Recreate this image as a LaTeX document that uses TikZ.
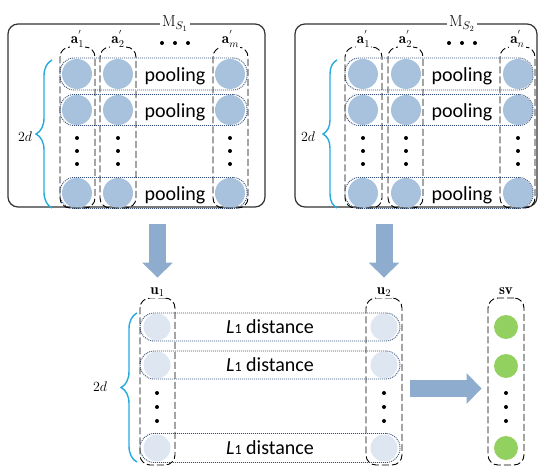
\RequirePackage{fix-cm}
\documentclass[tikz,border=0pt]{standalone}
\usepackage{amsmath}
\usepackage{fontspec}
\newfontfamily\calibri{Carlito}
\usepackage{xcolor}
\definecolor{cellblue}{RGB}{168, 194, 222}
\definecolor{celllight}{RGB}{222, 230, 241}
\definecolor{cellgreen}{RGB}{146, 208, 96}
\definecolor{flowblue}{RGB}{141, 172, 206}
\definecolor{bracecyan}{RGB}{38, 170, 222}
\definecolor{rowline}{RGB}{55, 80, 120}
\usepackage{tikz}
\usetikzlibrary{arrows.meta, positioning, decorations.pathreplacing}

\begin{document}
\begin{tikzpicture}[
    x=1pt, y=-1pt,
    panel/.style={rectangle, draw=black!80, line width=1.2pt, rounded corners=10pt},
    title/.style={fill=white, inner sep=2pt, anchor=base, font=\fontsize{16}{18}\selectfont},
    column/.style={rectangle, draw=black, line width=0.9pt, dash pattern=on 7pt off 3pt, rounded corners=10pt, minimum height=161pt},
    collabel/.style={fill=white, inner sep=1pt, anchor=base, font=\fontsize{15}{18}\selectfont},
    row/.style={rectangle, draw=rowline, line width=0.9pt, dash pattern=on 1pt off 1pt, rounded corners=14pt, inner sep=0pt},
    cell/.style={circle, fill=cellblue, minimum size=30pt, inner sep=0pt},
    lightcell/.style={circle, fill=celllight, minimum size=27pt, inner sep=0pt},
    greencell/.style={circle, fill=cellgreen, minimum size=24pt, inner sep=0pt},
    pooltext/.style={anchor=base, inner sep=0pt, font=\calibri\fontsize{20}{24}\selectfont},
    cbrace/.style={draw=bracecyan, line width=1.4pt, decorate},
    flow/.style={line width=17pt, flowblue, -{Triangle[width=30pt, length=15pt]}}
]
\useasboundingbox (0,0) rectangle (550,473);

% Left matrix
\node (panelL) [panel, minimum width=257pt, minimum height=183pt] at (136.5,115.5) {};
\node (cL11) [cell] at (77,74) {};
\node (cL12) [cell] at (118,74) {};
\node (cL1m) [cell] at (230,74) {};
\node (cL21) [cell] at (77,110) {};
\node (cL22) [cell] at (118,110) {};
\node (cL2m) [cell] at (230,110) {};
\node (cL31) [cell] at (77,193) {};
\node (cL32) [cell] at (118,193) {};
\node (cL3m) [cell] at (230,193) {};
\node (rowL1) [row, minimum width=187pt, minimum height=32pt] at (153.5,74) {};
\node (rowL2) [row, minimum width=187pt, minimum height=31pt] at (153.5,110) {};
\node (rowL3) [row, minimum width=187pt, minimum height=31pt] at (153.5,193) {};
\node (poolL1) [pooltext] at (175,82) {pooling};
\node (poolL2) [pooltext] at (175,118) {pooling};
\node (poolL3) [pooltext] at (175,201) {pooling};
\node (colL1) [column, minimum width=35pt] at (77.5,127.5) {};
\node (colL2) [column, minimum width=36pt] at (118,127.5) {};
\node (colLm) [column, minimum width=35pt] at (230.5,127.5) {};
\node (labL1) [collabel] at ([yshift=3pt]colL1.north) {$\mathbf{a}^{'}_{1}$};
\node (labL2) [collabel] at ([yshift=3pt]colL2.north) {$\mathbf{a}^{'}_{2}$};
\node (labLm) [collabel] at ([yshift=3pt]colLm.north) {$\mathbf{a}^{'}_{m}$};
\node (titleL) [title] at (175,27) {$\mathrm{M}_{S_1}$};
\fill (162,43) circle (2) (175,43) circle (2) (188,43) circle (2);
\fill (77,138) circle (2) (77,151) circle (2) (77,164) circle (2);
\fill (118,138) circle (2) (118,151) circle (2) (118,164) circle (2);
\fill (230,138) circle (2) (230,151) circle (2) (230,164) circle (2);
\draw [cbrace, decoration={brace, amplitude=16pt}] (52,208) -- (52,60);
\node (dimL) [font=\fontsize{14}{16}\selectfont] at (25,137) {$2d$};

% Right matrix
\node (panelR) [panel, minimum width=242pt, minimum height=183pt] at (416,115.5) {};
\node (cR11) [cell] at (363,74) {};
\node (cR12) [cell] at (406,74) {};
\node (cR1n) [cell] at (518,74) {};
\node (cR21) [cell] at (363,110) {};
\node (cR22) [cell] at (406,110) {};
\node (cR2n) [cell] at (518,110) {};
\node (cR31) [cell] at (363,193) {};
\node (cR32) [cell] at (406,193) {};
\node (cR3n) [cell] at (518,193) {};
\node (rowR1) [row, minimum width=188pt, minimum height=32pt] at (439,74) {};
\node (rowR2) [row, minimum width=188pt, minimum height=31pt] at (439,110) {};
\node (rowR3) [row, minimum width=188pt, minimum height=31pt] at (439,193) {};
\node (poolR1) [pooltext] at (462,82) {pooling};
\node (poolR2) [pooltext] at (462,118) {pooling};
\node (poolR3) [pooltext] at (462,201) {pooling};
\node (colR1) [column, minimum width=37pt] at (363.5,127.5) {};
\node (colR2) [column, minimum width=35pt] at (405.5,127.5) {};
\node (colRn) [column, minimum width=35pt] at (517.5,127.5) {};
\node (labR1) [collabel] at ([yshift=3pt]colR1.north) {$\mathbf{a}^{'}_{1}$};
\node (labR2) [collabel] at ([yshift=3pt]colR2.north) {$\mathbf{a}^{'}_{2}$};
\node (labRn) [collabel] at ([yshift=3pt]colRn.north) {$\mathbf{a}^{'}_{n}$};
\node (titleR) [title] at (462,27) {$\mathrm{M}_{S_2}$};
\fill (449,43) circle (2) (462,43) circle (2) (475,43) circle (2);
\fill (363,138) circle (2) (363,151) circle (2) (363,164) circle (2);
\fill (406,138) circle (2) (406,151) circle (2) (406,164) circle (2);
\fill (518,138) circle (2) (518,151) circle (2) (518,164) circle (2);
\draw [cbrace, decoration={brace, amplitude=14pt}] (337,208) -- (337,60);
\node (dimR) [font=\fontsize{14}{16}\selectfont] at (308,137) {$2d$};

% Distance layer
\node (cU11) [lightcell] at (157,327) {};
\node (cU12) [lightcell] at (157,365) {};
\node (cU13) [lightcell] at (157,448) {};
\node (cU21) [lightcell] at (384,327) {};
\node (cU22) [lightcell] at (384,365) {};
\node (cU23) [lightcell] at (384,448) {};
\node (rowD1) [row, minimum width=260pt, minimum height=28pt, font=\calibri\fontsize{20}{24}\selectfont] at (270,327) {\textit{L}{\fontsize{14}{14}\selectfont 1} distance};
\node (rowD2) [row, minimum width=260pt, minimum height=28pt, font=\calibri\fontsize{20}{24}\selectfont] at (270,365) {\textit{L}{\fontsize{14}{14}\selectfont 1} distance};
\node (rowD3) [row, minimum width=260pt, minimum height=29pt, font=\calibri\fontsize{20}{24}\selectfont] at (270,448) {\textit{L}{\fontsize{14}{14}\selectfont 1} distance};
\node (colU1) [column, minimum width=35pt, minimum height=167pt] at (157.5,381.5) {};
\node (colU2) [column, minimum width=36pt, minimum height=167pt] at (384,381.5) {};
\node (labU1) [collabel] at ([yshift=3pt]colU1.north) {$\mathbf{u}_{1}$};
\node (labU2) [collabel] at ([yshift=3pt]colU2.north) {$\mathbf{u}_{2}$};
\fill (157,393) circle (2) (157,407) circle (2) (157,421) circle (2);
\fill (384,393) circle (2) (384,407) circle (2) (384,421) circle (2);
\draw [cbrace, decoration={brace, amplitude=16pt}] (137,462) -- (137,313);
\node (dimU) [font=\fontsize{14}{16}\selectfont] at (100,387) {$2d$};

% Similarity vector
\node (cS1) [greencell] at (506,327) {};
\node (cS2) [greencell] at (506,366) {};
\node (cS3) [greencell] at (506,448) {};
\node (colSV) [column, minimum width=36pt, minimum height=167pt] at (506,381.5) {};
\node (labSV) [collabel] at ([yshift=3pt]colSV.north) {$\mathbf{sv}$};
\fill (506,393) circle (2) (506,407) circle (2) (506,421) circle (2);

% Arrows
\draw [flow, shorten <=16pt, shorten >=20pt] (panelL.south -| colU1.north) -- (colU1.north);
\draw [flow, shorten <=16pt, shorten >=20pt] (panelR.south -| colU2.north) -- (colU2.north);
\draw [flow, shorten <=8pt, shorten >=6pt] ([yshift=-7pt]colU2.east) -- ([yshift=-7pt]colSV.west);

\end{tikzpicture}
\end{document}
